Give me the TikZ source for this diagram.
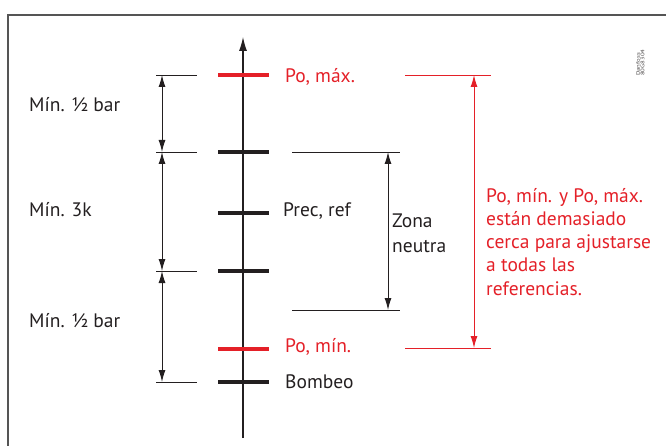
\documentclass[tikz,border=0pt]{standalone}
\usepackage{fontspec}
\setmainfont{PT Sans}
\usetikzlibrary{arrows.meta}
\definecolor{dred}{RGB}{228,32,40}
\definecolor{frame}{RGB}{85,85,85}
\definecolor{txt}{RGB}{35,31,32}
\tikzset{
  ext/.style={line width=0.8pt, draw=txt},
  rext/.style={line width=0.8pt, draw=dred},
  dim/.style={line width=1pt, draw=txt, {Latex[length=12pt,width=7pt]}-{Latex[length=12pt,width=7pt]}},
  rdim/.style={line width=1pt, draw=dred, {Latex[length=12pt,width=7pt]}-{Latex[length=12pt,width=7pt]}},
  tick/.style={line width=4.5pt, draw=txt},
  rtick/.style={line width=4.5pt, draw=dred},
  lbl/.style={anchor=base west, inner sep=0pt, text=txt, font=\fontsize{19.5}{23}\selectfont},
  rlbl/.style={anchor=base west, inner sep=0pt, text=dred, font=\fontsize{19.5}{23}\selectfont},
}
\begin{document}
\begin{tikzpicture}[x=1pt,y=-1pt]
\useasboundingbox (0,0) rectangle (666,446);
\draw[frame, line width=1.2pt] (680,15) -- (8,15) -- (8,460);
% axis
\coordinate (abot) at (243,438);
\coordinate (atop) at (243,37);
\draw[line width=1.1pt, draw=txt, -{Latex[length=14pt,width=8pt]}] (abot) -- (atop);
% ticks
\foreach \n/\y in {t1/75,t2/152,t3/213,t4/271,t5/349,t6/382}{
  \coordinate (\n l) at (218,\y);
  \coordinate (\n r) at (269,\y);
}
\draw[rtick] (t1l) -- (t1r);
\draw[tick] (t2l) -- (t2r);
\draw[tick] (t3l) -- (t3r);
\draw[tick] (t4l) -- (t4r);
\draw[rtick] (t5l) -- (t5r);
\draw[tick] (t6l) -- (t6r);
% tick labels
\node[rlbl] (pomax) at (285,83) {Po, máx.};
\node[lbl] (prec) at (283,217) {Prec, ref};
\node[rlbl] (pomin) at (285,352) {Po, mín.};
\node[lbl] (bomb) at (285,388) {Bombeo};
% left dimension
\foreach \n/\y in {l1/75,l2/152,l3/271,l4/382}{
  \coordinate (\n a) at (156,\y);
  \coordinate (\n b) at (197,\y);
  \coordinate (\n m) at (162,\y);
  \draw[ext] (\n a) -- (\n b);
}
\draw[dim] (l1m) -- (l2m);
\draw[dim] (l2m) -- (l3m);
\draw[dim] (l3m) -- (l4m);
\node[lbl] (d1) at (29,112) {Mín. ½ bar};
\node[lbl] (d2) at (29,217) {Mín. 3k};
\node[lbl] (d3) at (29,327) {Mín. ½ bar};
% zona neutra
\coordinate (z1a) at (292,152); \coordinate (z1b) at (400,152);
\coordinate (z2a) at (292,310); \coordinate (z2b) at (400,310);
\coordinate (z1m) at (388,152); \coordinate (z2m) at (388,310);
\draw[ext] (z1a) -- (z1b);
\draw[ext] (z2a) -- (z2b);
\draw[dim] (z1m) -- (z2m);
\node[lbl] (zona1) at (392,228) {Zona};
\node[lbl] (zona2) at (392,252) {neutra};
% red dimension
\coordinate (r1a) at (405,75); \coordinate (r1b) at (491,75);
\coordinate (r2a) at (405,348); \coordinate (r2b) at (491,348);
\coordinate (r1m) at (474,75); \coordinate (r2m) at (474,348);
\draw[rext] (r1a) -- (r1b);
\draw[rext] (r2a) -- (r2b);
\draw[rdim] (r1m) -- (r2m);
\node[rlbl] (note1) at (486,203) {Po, mín. y Po, máx.};
\node[rlbl] (note2) at (486,226) {están demasiado};
\node[rlbl] (note3) at (486,249) {cerca para ajustarse};
\node[rlbl] (note4) at (486,272) {a todas las};
\node[rlbl] (note5) at (486,295) {referencias.};
% logo text
\node[rotate=90, anchor=north west, inner sep=0pt, align=left, text=txt!80, font=\fontsize{5.2}{4.6}\selectfont] (logo) at (636,76) {\scalebox{1.3}[1]{Danfoss}\\\scalebox{1.3}[1]{80G8304}};
\end{tikzpicture}
\end{document}
